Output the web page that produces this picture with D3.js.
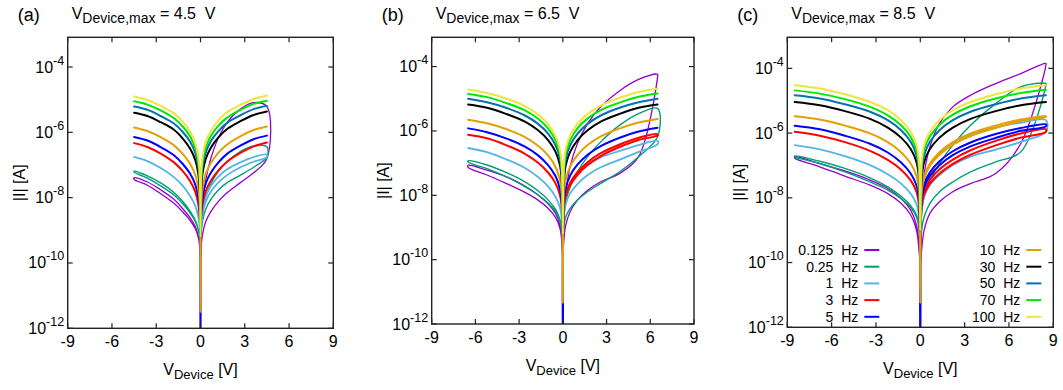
<!DOCTYPE html>
<html>
<head>
<meta charset="utf-8">
<script src="https://cdn.jsdelivr.net/npm/d3@7"></script>
<style>
  body { margin: 0; background: #fff; }
  text { font-family: "Liberation Sans", Arial, sans-serif; fill: #000; white-space: pre; }
</style>
</head>
<body>
<div id="chart"></div>
<script>
// sweep frequencies (legend order = draw order)
const freqs = ["0.125", "0.25", "1", "3", "5", "10", "30", "50", "70", "100"];
const colors = ["#9400d3", "#009e73", "#56b4e9", "#ff0000", "#0000ff", "#e69f00", "#000000", "#0072b2", "#00e800", "#f0e442"];
const widths = [1.3, 1.4, 1.8, 2, 2, 2, 2, 2, 2, 2];

const panelTags = ["(a)", "(b)", "(c)"];
const vMaxText = ["4.5", "6.5", "8.5"];
const xTicks = [-9, -6, -3, 0, 3, 6, 9];
const yTicks = [-12, -10, -8, -6, -4];   // log10 |I|

// |V| sample points of each branch, from V max down to near 0
const vGridA = [4.5, 3.6, 2.7, 1.8, 1.2, 0.7, 0.35, 0.15, 0.05];
const vGridB = [6.5, 5.2, 3.9, 2.6, 1.7, 1.0, 0.5, 0.2, 0.07];
const vGridC = [8.5, 6.8, 5.1, 3.4, 2.2, 1.3, 0.65, 0.26, 0.09];

// log10 |I|; null = same as the other branch
// (a) Vmax = 4.5 V
const aPosUp = [
  [-6.80, -7.24, -7.54, -7.85, -8.12, -8.43, -8.74, -9.10, -9.45],
  [-6.76, -7.07, -7.31, -7.54, -7.77, -8.05, -8.36, -8.69, -9.05],
  [-6.76, -6.90, -7.07, -7.31, -7.54, -7.82, -8.13, -8.48, -8.89],
  [-6.31, -6.43, -6.63, -6.90, -7.17, -7.48, -7.81, -8.18, -8.56],
  [-6.10, -6.21, -6.41, -6.66, -6.93, -7.24, -7.57, -7.95, -8.39],
  [-5.82, -5.93, -6.12, -6.37, -6.63, -6.94, -7.28, -7.69, -8.15],
  [-5.36, -5.47, -5.66, -5.90, -6.16, -6.47, -6.82, -7.22, -7.74],
  [-5.19, -5.29, -5.48, -5.71, -5.97, -6.27, -6.62, -7.03, -7.54],
  [-5.03, -5.13, -5.31, -5.55, -5.80, -6.11, -6.47, -6.88, -7.39],
  [-4.87, -4.98, -5.16, -5.38, -5.64, -5.95, -6.30, -6.71, -7.22]
];
const aPosDown = [
  [-5.21, -5.09, -5.29, -5.70, -6.18, -6.80, -7.46, -8.18, -8.79],
  [-6.44, -6.42, -6.59, -6.90, -7.20, -7.58, -7.97, -8.41, -8.89],
  [-6.68, -6.76, -6.92, -7.13, -7.36, -7.64, -7.97, -8.38, -8.84],
  null, null, null, null, null, null, null
];
const aNegOut = [
  [-7.39, -7.52, -7.76, -8.05, -8.34, -8.62, -8.89, -9.18, -9.50],
  [-7.19, -7.33, -7.55, -7.84, -8.12, -8.42, -8.69, -8.97, -9.25],
  [-6.75, -6.88, -7.09, -7.37, -7.64, -7.95, -8.26, -8.58, -8.94],
  [-6.33, -6.45, -6.65, -6.92, -7.19, -7.50, -7.83, -8.20, -8.58],
  [-6.14, -6.25, -6.45, -6.70, -6.97, -7.27, -7.61, -7.99, -8.43],
  [-5.85, -5.96, -6.15, -6.40, -6.66, -6.97, -7.31, -7.72, -8.18],
  [-5.40, -5.50, -5.69, -5.92, -6.19, -6.50, -6.85, -7.26, -7.77],
  [-5.21, -5.31, -5.50, -5.73, -5.99, -6.29, -6.64, -7.05, -7.56],
  [-5.05, -5.15, -5.33, -5.57, -5.82, -6.13, -6.49, -6.90, -7.41],
  [-4.90, -5.01, -5.19, -5.42, -5.67, -5.98, -6.34, -6.75, -7.26]
];
const aNegBack = [
  [-7.44, -7.62, -7.88, -8.17, -8.44, -8.70, -8.95, -9.22, -9.52],
  [-7.22, -7.40, -7.64, -7.92, -8.19, -8.47, -8.73, -9.00, -9.27],
  null, null, null, null, null, null, null, null
];
const aZero = [-9.9, -9.8, -9.7, -9.6, -13, -11.5, -9.2, -9.2, -9.2, -9.2];

// (b) Vmax = 6.5 V
const bPosUp = [
  [-4.32, -6.80, -7.32, -7.58, -7.84, -8.15, -8.51, -8.93, -9.39],
  [-6.18, -6.80, -7.27, -7.63, -7.89, -8.15, -8.41, -8.67, -8.98],
  [-6.41, -6.65, -6.89, -7.13, -7.37, -7.65, -7.94, -8.27, -8.67],
  [-6.10, -6.21, -6.42, -6.69, -6.97, -7.28, -7.61, -7.97, -8.39],
  [-5.90, -6.02, -6.21, -6.47, -6.74, -7.05, -7.39, -7.78, -8.23],
  [-5.63, -5.74, -5.92, -6.17, -6.44, -6.75, -7.10, -7.51, -7.97],
  [-5.18, -5.28, -5.47, -5.71, -5.98, -6.29, -6.65, -7.06, -7.58],
  [-5.00, -5.11, -5.28, -5.52, -5.78, -6.09, -6.45, -6.87, -7.38],
  [-4.84, -4.94, -5.12, -5.35, -5.61, -5.92, -6.29, -6.70, -7.22],
  [-4.69, -4.79, -4.97, -5.21, -5.47, -5.78, -6.14, -6.56, -7.07]
];
const bPosDown = [
  [-4.24, -4.40, -4.75, -5.25, -5.77, -6.39, -7.11, -7.94, -8.77],
  [-5.30, -5.46, -5.82, -6.34, -6.80, -7.27, -7.74, -8.20, -8.67],
  [-6.31, -6.44, -6.62, -6.82, -7.06, -7.34, -7.65, -8.05, -8.51],
  [-6.14, -6.28, -6.50, -6.78, -7.06, -7.37, -7.69, -8.04, -8.44],
  null, null, null, null, null, null
];
const bNegOut = [
  [-7.07, -7.22, -7.42, -7.71, -7.99, -8.27, -8.56, -8.93, -9.39],
  [-6.93, -7.06, -7.29, -7.58, -7.86, -8.15, -8.44, -8.75, -9.08],
  [-6.53, -6.66, -6.88, -7.15, -7.43, -7.73, -8.05, -8.38, -8.77],
  [-6.12, -6.23, -6.44, -6.71, -6.99, -7.30, -7.63, -7.99, -8.41],
  [-5.92, -6.04, -6.23, -6.49, -6.76, -7.07, -7.41, -7.80, -8.25],
  [-5.65, -5.76, -5.94, -6.19, -6.46, -6.77, -7.12, -7.53, -7.99],
  [-5.18, -5.28, -5.47, -5.71, -5.98, -6.29, -6.65, -7.06, -7.58],
  [-5.00, -5.11, -5.28, -5.52, -5.78, -6.09, -6.45, -6.87, -7.38],
  [-4.85, -4.95, -5.13, -5.36, -5.62, -5.93, -6.30, -6.71, -7.23],
  [-4.71, -4.82, -4.99, -5.23, -5.49, -5.80, -6.16, -6.58, -7.09]
];
const bNegBack = [
  [-7.13, -7.37, -7.63, -7.91, -8.15, -8.41, -8.69, -9.03, -9.44],
  [-6.97, -7.17, -7.42, -7.73, -7.99, -8.25, -8.51, -8.79, -9.10],
  null, null, null, null, null, null, null, null
];
const bZero = [-10.0, -9.8, -9.7, -9.6, -13, -11.35, -9.2, -9.2, -9.2, -9.2];

// (c) Vmax = 8.5 V
const cPosUp = [
  [-3.90, -6.32, -7.25, -7.56, -7.81, -8.12, -8.48, -9.00, -9.61],
  [-4.52, -6.58, -6.89, -7.20, -7.51, -7.81, -8.17, -8.59, -9.00],
  [-5.96, -6.27, -6.51, -6.73, -6.99, -7.30, -7.61, -7.97, -8.38],
  [-5.88, -6.01, -6.24, -6.53, -6.82, -7.12, -7.45, -7.81, -8.23],
  [-5.73, -5.84, -6.03, -6.29, -6.56, -6.87, -7.21, -7.58, -8.03],
  [-5.48, -5.58, -5.77, -6.01, -6.28, -6.59, -6.94, -7.33, -7.81],
  [-5.04, -5.14, -5.32, -5.56, -5.83, -6.14, -6.49, -6.89, -7.40],
  [-4.83, -4.93, -5.11, -5.34, -5.60, -5.91, -6.27, -6.68, -7.20],
  [-4.66, -4.76, -4.93, -5.17, -5.43, -5.74, -6.10, -6.51, -7.02],
  [-4.52, -4.62, -4.80, -5.04, -5.29, -5.60, -5.96, -6.37, -6.89]
];
const cPosDown = [
  [-3.85, -4.16, -4.47, -4.83, -5.19, -5.70, -6.42, -7.25, -7.97],
  [-4.47, -4.57, -5.09, -5.76, -6.37, -6.94, -7.45, -7.97, -8.48],
  [-5.60, -5.68, -5.83, -6.03, -6.30, -6.63, -6.99, -7.40, -7.87],
  [-5.96, -6.14, -6.38, -6.67, -6.95, -7.25, -7.56, -7.89, -8.28],
  [-5.79, -5.93, -6.15, -6.41, -6.68, -6.99, -7.32, -7.68, -8.09],
  [-5.50, -5.63, -5.84, -6.09, -6.36, -6.67, -7.01, -7.39, -7.86],
  null, null, null, null
];
const cNegOut = [
  [-6.73, -6.94, -7.17, -7.45, -7.71, -8.02, -8.38, -8.84, -9.41],
  [-6.71, -6.87, -7.09, -7.38, -7.66, -7.95, -8.24, -8.53, -8.89],
  [-6.37, -6.50, -6.71, -6.99, -7.27, -7.56, -7.87, -8.19, -8.59],
  [-5.96, -6.08, -6.28, -6.55, -6.83, -7.13, -7.46, -7.81, -8.23],
  [-5.77, -5.88, -6.08, -6.33, -6.60, -6.91, -7.25, -7.62, -8.07],
  [-5.48, -5.58, -5.77, -6.01, -6.28, -6.59, -6.94, -7.33, -7.81],
  [-5.04, -5.14, -5.32, -5.56, -5.83, -6.14, -6.49, -6.89, -7.40],
  [-4.83, -4.93, -5.11, -5.34, -5.60, -5.91, -6.27, -6.68, -7.20],
  [-4.68, -4.78, -4.95, -5.19, -5.45, -5.76, -6.12, -6.53, -7.04],
  [-4.52, -4.62, -4.80, -5.04, -5.29, -5.60, -5.96, -6.37, -6.89]
];
const cNegBack = [
  [-6.77, -7.04, -7.33, -7.61, -7.87, -8.17, -8.53, -9.00, -9.61],
  [-6.73, -6.94, -7.20, -7.51, -7.76, -8.03, -8.30, -8.59, -8.95],
  null, null, null, null, null, null, null, null
];
const cZero = [-10.2, -9.8, -9.6, -9.5, -13, -11.25, -9.0, -9.0, -9.0, -9.0];

const panels = [
  { grid: vGridA, posUp: aPosUp, posDown: aPosDown, negOut: aNegOut, negBack: aNegBack, zero: aZero },
  { grid: vGridB, posUp: bPosUp, posDown: bPosDown, negOut: bNegOut, negBack: bNegBack, zero: bZero },
  { grid: vGridC, posUp: cPosUp, posDown: cPosDown, negOut: cNegOut, negBack: cNegBack, zero: cZero }
];

// plot boxes in page pixels
const frames = [
  { x0: 67.7, x1: 333.3, y0: 37.3, y1: 328.3, top: -3.09 },
  { x0: 431.7, x1: 694, y0: 37.3, y1: 324, top: -3.09 },
  { x0: 787.3, x1: 1053.3, y0: 37.3, y1: 327.3, top: -3.04 }
];

const svg = d3.select('#chart')
  .append('svg')
  .attr('width', 1063)
  .attr('height', 390);

// one closed sweep: 0 -> +Vmax -> 0 -> -Vmax -> 0
function loopPoints(p, k) {
  let g = p.grid;
  let up = p.posUp[k];
  let down = p.posDown[k] || up;
  let out = p.negOut[k];
  let back = p.negBack[k] || out;
  let z = p.zero[k];
  let pts = [[0, z]];
  for (let i = g.length - 1; i >= 0; i--) pts.push([g[i], up[i]]);
  for (let i = 0; i < g.length; i++) pts.push([g[i], down[i]]);
  pts.push([0, z]);
  for (let i = g.length - 1; i >= 0; i--) pts.push([-g[i], out[i]]);
  for (let i = 0; i < g.length; i++) pts.push([-g[i], back[i]]);
  pts.push([0, z]);
  return pts;
}

panels.forEach(function (p, pi) {
  let f = frames[pi];
  let x = d3.scaleLinear().domain([-9, 9]).range([f.x0, f.x1]);
  let y = d3.scaleLog().domain([1e-12, Math.pow(10, f.top)]).range([f.y1, f.y0]);

  let g = svg.append('g');

  g.append('clipPath')
    .attr('id', 'clip' + pi)
    .append('rect')
    .attr('x', f.x0).attr('y', f.y0)
    .attr('width', f.x1 - f.x0).attr('height', f.y1 - f.y0);

  let line = d3.line()
    .x(function (d) { return x(d[0]); })
    .y(function (d) { return y(Math.pow(10, d[1])); })
    .curve(d3.curveCatmullRom.alpha(0.5));

  let curves = g.append('g').attr('clip-path', 'url(#clip' + pi + ')');
  freqs.forEach(function (fr, k) {
    curves.append('path')
      .attr('d', line(loopPoints(p, k)))
      .attr('fill', 'none')
      .attr('stroke', colors[k])
      .attr('stroke-width', widths[k])
      .attr('stroke-linejoin', 'round');
  });

  // ticks (inward, mirrored)
  let tk = g.append('g').attr('stroke', '#222').attr('stroke-width', 1.2);
  xTicks.forEach(function (t) {
    tk.append('line').attr('x1', x(t)).attr('x2', x(t)).attr('y1', f.y1).attr('y2', f.y1 - 5);
    tk.append('line').attr('x1', x(t)).attr('x2', x(t)).attr('y1', f.y0).attr('y2', f.y0 + 5);
  });
  yTicks.forEach(function (t) {
    let yy = y(Math.pow(10, t));
    tk.append('line').attr('x1', f.x0).attr('x2', f.x0 + 5).attr('y1', yy).attr('y2', yy);
    tk.append('line').attr('x1', f.x1).attr('x2', f.x1 - 5).attr('y1', yy).attr('y2', yy);
  });

  g.append('rect')
    .attr('x', f.x0).attr('y', f.y0)
    .attr('width', f.x1 - f.x0).attr('height', f.y1 - f.y0)
    .attr('fill', 'none').attr('stroke', '#222').attr('stroke-width', 1.4);

  // tick labels
  xTicks.forEach(function (t) {
    g.append('text')
      .attr('x', x(t)).attr('y', f.y1 + 19)
      .attr('text-anchor', 'middle')
      .attr('font-size', 16)
      .text(String(t));
  });
  yTicks.forEach(function (t) {
    let txt = g.append('text')
      .attr('x', f.x0 - 3.5).attr('y', y(Math.pow(10, t)) + 5.5)
      .attr('text-anchor', 'end')
      .attr('font-size', 16);
    txt.append('tspan').text('10');
    txt.append('tspan').attr('font-size', 12.5).attr('dy', -8).text(String(t));
  });

  // axis titles
  let xl = g.append('text')
    .attr('x', (f.x0 + f.x1) / 2).attr('y', f.y1 + 46.5)
    .attr('text-anchor', 'middle')
    .attr('font-size', 16);
  xl.append('tspan').text('V');
  xl.append('tspan').attr('font-size', 13).attr('dy', 4).text('Device');
  xl.append('tspan').attr('dy', -4).text(' [V]');

  g.append('text')
    .attr('transform', 'translate(' + (f.x0 - 42.7) + ',' + ((f.y0 + f.y1) / 2) + ') rotate(-90)')
    .attr('text-anchor', 'middle')
    .attr('font-size', 16)
    .text('|I| [A]');

  // panel heading
  g.append('text')
    .attr('x', f.x0 - 50).attr('y', 20.5)
    .attr('font-size', 18)
    .text(panelTags[pi]);
  let tt = g.append('text')
    .attr('x', f.x0 + 4).attr('y', 18.5)
    .attr('font-size', 16);
  tt.append('tspan').text('V');
  tt.append('tspan').attr('font-size', 14).attr('dy', 4.5).text('Device,max');
  tt.append('tspan').attr('dy', -4.5).text(' = ' + vMaxText[pi] + '  V');

  // legend only in the last panel
  if (pi === 2) {
    let lg = g.append('g');
    freqs.forEach(function (fr, k) {
      let col = k < 5 ? 0 : 1;
      let row = k % 5;
      let cy = 250 + row * 16.7;
      let tx = col === 0 ? f.x0 + 71 : f.x1 - 33;
      lg.append('text')
        .attr('x', tx).attr('y', cy + 5)
        .attr('text-anchor', 'end')
        .attr('font-size', 14)
        .text(fr + '  Hz');
      lg.append('line')
        .attr('x1', tx + 6).attr('x2', tx + 21)
        .attr('y1', cy).attr('y2', cy)
        .attr('stroke', colors[k]).attr('stroke-width', 2);
    });
  }
});
</script>
</body>
</html>
